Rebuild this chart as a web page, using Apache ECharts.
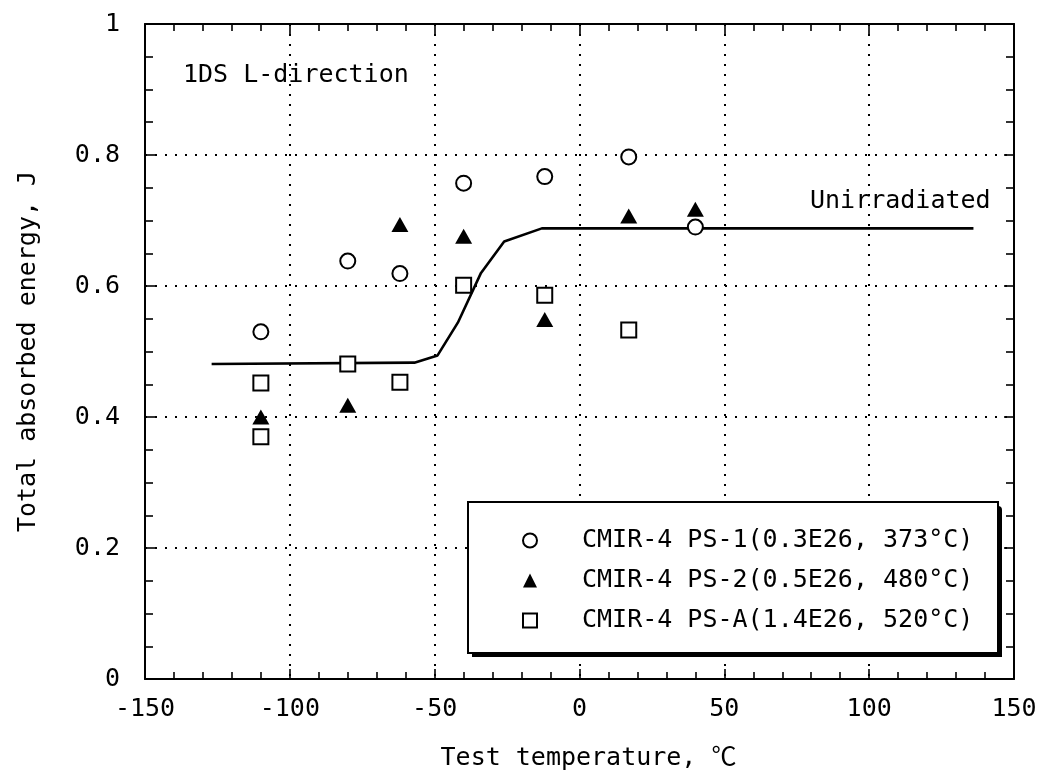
<!DOCTYPE html>
<html>
<head>
<meta charset="utf-8">
<title>Total absorbed energy vs test temperature</title>
<script src="https://cdn.jsdelivr.net/npm/echarts@6/dist/echarts.min.js"></script>
<style>
  html, body { margin: 0; padding: 0; background: #fff; }
  #chart { width: 1042px; height: 772px; }
</style>
</head>
<body>
<div id="chart"></div>
<script>
// Charpy-type absorbed energy data, 1DS steel, L-direction
const ps1Temp   = [-110, -80, -62, -40, -12, 17, 40];
const ps1Energy = [0.530, 0.638, 0.619, 0.757, 0.767, 0.797, 0.690];

const ps2Temp   = [-110, -80, -62, -40, -12, 17, 40];
const ps2Energy = [0.400, 0.418, 0.694, 0.676, 0.549, 0.707, 0.717];

const psATemp   = [-110, -110, -80, -62, -40, -12, 17];
const psAEnergy = [0.452, 0.370, 0.481, 0.453, 0.601, 0.586, 0.533];

// Unirradiated reference curve
const unirrTemp   = [-127, -57, -49, -42, -34, -26, -13, 136];
const unirrEnergy = [0.481, 0.483, 0.494, 0.544, 0.620, 0.668, 0.688, 0.688];

const seriesNames = [
  'CMIR-4 PS-1(0.3E26, 373°C)',
  'CMIR-4 PS-2(0.5E26, 480°C)',
  'CMIR-4 PS-A(1.4E26, 520°C)'
];

const xTitle = 'Test temperature, ℃';
const yTitle = 'Total absorbed energy, J';
const curveLabel = 'Unirradiated';
const panelLabel = '1DS L-direction';

const FONT = "'DejaVu Sans Mono', 'Noto Sans CJK JP', monospace";
const FS = 25;
const zip = (xs, ys) => xs.map((x, i) => [x, ys[i]]);

const chart = echarts.init(document.getElementById('chart'), null, { renderer: 'canvas' });

const axisLine = { show: true, onZero: false, lineStyle: { color: '#000', width: 2 } };
const dotted = { show: true, lineStyle: { color: '#000', width: 2, type: [2, 8] } };
const tickStyle = { color: '#000', width: 1.6 };

// legend frame with a solid drop shadow
const box = { x: 468, y: 502, w: 530, h: 151 };

const option = {
  backgroundColor: '#fff',
  animation: false,
  grid: { left: 145, right: 28, top: 24, bottom: 93, containLabel: false, outerBoundsMode: 'none' },
  xAxis: [
    {
      type: 'value', position: 'bottom', min: -150, max: 150, interval: 50,
      axisLine: axisLine,
      axisTick: { show: true, inside: true, length: 10, lineStyle: tickStyle },
      minorTick: { show: true, splitNumber: 5, length: 7, lineStyle: tickStyle },
      splitLine: dotted,
      axisLabel: { color: '#000', fontFamily: FONT, fontSize: FS, margin: 18 },
      name: xTitle, nameLocation: 'middle', nameGap: 67,
      nameTextStyle: { color: '#000', fontFamily: FONT, fontSize: FS, padding: [0, 0, 0, 18] }
    },
    {
      type: 'value', position: 'top', min: -150, max: 150, interval: 50,
      axisLine: axisLine,
      axisTick: { show: true, inside: true, length: 10, lineStyle: tickStyle },
      minorTick: { show: true, splitNumber: 5, length: 7, lineStyle: tickStyle },
      splitLine: { show: false },
      axisLabel: { show: false }
    }
  ],
  yAxis: [
    {
      type: 'value', position: 'left', min: 0, max: 1, interval: 0.2,
      axisLine: axisLine,
      axisTick: { show: true, inside: true, length: 10, lineStyle: tickStyle },
      minorTick: { show: true, splitNumber: 4, length: 8, lineStyle: tickStyle },
      splitLine: dotted,
      axisLabel: { color: '#000', fontFamily: FONT, fontSize: FS, margin: 25 },
      name: yTitle, nameLocation: 'middle', nameGap: 104, nameRotate: 90,
      nameTextStyle: { color: '#000', fontFamily: FONT, fontSize: FS }
    },
    {
      type: 'value', position: 'right', min: 0, max: 1, interval: 0.2,
      axisLine: axisLine,
      axisTick: { show: true, inside: true, length: 10, lineStyle: tickStyle },
      minorTick: { show: true, splitNumber: 4, length: 8, lineStyle: tickStyle },
      splitLine: { show: false },
      axisLabel: { show: false }
    }
  ],
  legend: {
    orient: 'vertical',
    left: 467, top: 502,
    padding: [26, 0, 0, 55],
    itemGap: 15,
    itemWidth: 14, itemHeight: 14,
    data: seriesNames,
    z: 6,
    textStyle: { color: '#000', fontFamily: FONT, fontSize: FS, lineHeight: 25, padding: [0, 0, 0, 40] }
  },
  graphic: [
    {
      type: 'text', left: 183, top: 63, z: 10,
      style: { text: panelLabel, fill: '#000', font: FS + 'px ' + FONT }
    },
    {
      type: 'text', left: 810, top: 189, z: 10,
      style: { text: curveLabel, fill: '#000', font: FS + 'px ' + FONT }
    },
    {
      type: 'rect', z: 4,
      shape: { x: box.x + 4, y: box.y + 4, width: box.w, height: box.h, r: [0, 4, 0, 0] },
      style: { fill: '#000' }
    },
    {
      type: 'rect', z: 5,
      shape: { x: box.x, y: box.y, width: box.w, height: box.h },
      style: { fill: '#fff', stroke: '#000', lineWidth: 2 }
    }
  ],
  series: [
    {
      name: 'Unirradiated curve', type: 'line', data: zip(unirrTemp, unirrEnergy),
      showSymbol: false, symbol: 'none', z: 2,
      lineStyle: { color: '#000', width: 2.6 }
    },
    {
      name: seriesNames[0], type: 'scatter', data: zip(ps1Temp, ps1Energy),
      symbol: 'circle', symbolSize: 15, z: 3,
      itemStyle: { color: '#fff', borderColor: '#000', borderWidth: 2, opacity: 1 }
    },
    {
      name: seriesNames[1], type: 'scatter', data: zip(ps2Temp, ps2Energy),
      symbol: 'triangle', symbolSize: [17, 15], z: 3,
      itemStyle: { color: '#000', borderColor: '#000', borderWidth: 0, opacity: 1 }
    },
    {
      name: seriesNames[2], type: 'scatter', data: zip(psATemp, psAEnergy),
      symbol: 'rect', symbolSize: 15, z: 3,
      itemStyle: { color: '#fff', borderColor: '#000', borderWidth: 2, opacity: 1 }
    }
  ]
};

chart.setOption(option);
</script>
</body>
</html>
